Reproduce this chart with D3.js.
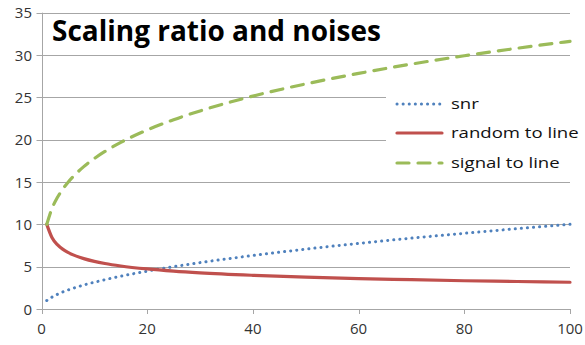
<!DOCTYPE html>
<html>
<head>
<meta charset="utf-8">
<script src="https://cdn.jsdelivr.net/npm/d3@7"></script>
<style>
  body { margin: 0; background: #fff; }
  svg { display: block; }
</style>
</head>
<body>
<div id="chart"></div>
<script>
// values
const xs     = [1, 2, 3, 4, 5, 6, 8, 10, 12, 15, 20, 25, 30, 40, 50, 60, 70, 80, 90, 100];
const snr    = [1, 1.41, 1.73, 2, 2.24, 2.45, 2.83, 3.16, 3.46, 3.87, 4.47, 5, 5.48, 6.32, 7.07, 7.75, 8.37, 8.94, 9.49, 10];
const random = [10, 8.41, 7.6, 7.07, 6.69, 6.39, 5.95, 5.62, 5.37, 5.08, 4.73, 4.47, 4.27, 3.98, 3.76, 3.59, 3.46, 3.34, 3.25, 3.16];
const signal = [10, 11.9, 13.16, 14.14, 14.95, 15.65, 16.82, 17.78, 18.61, 19.68, 21.15, 22.36, 23.4, 25.15, 26.59, 27.83, 28.93, 29.91, 30.8, 31.62];
const xTicks = [0, 20, 40, 60, 80, 100];
const yTicks = [0, 5, 10, 15, 20, 25, 30, 35];
const seriesNames = ["snr", "random to line", "signal to line"];

const W = 585, H = 345;
const svg = d3.select("#chart").append("svg").attr("width", W).attr("height", H);

const x = d3.scaleLinear().domain([0, 100]).range([41.5, 570]);
const y = d3.scaleLinear().domain([0, 35]).range([309, 12.7]);

const font = "'Open Sans', sans-serif";

// gridlines
svg.append("g")
  .selectAll("line").data(yTicks).enter().append("line")
  .attr("x1", x(0) - 5).attr("x2", x(100))
  .attr("y1", d => Math.round(y(d)) + 0.5).attr("y2", d => Math.round(y(d)) + 0.5)
  .attr("stroke", "#a6a6a6").attr("stroke-width", 1);

// y axis line
svg.append("line")
  .attr("x1", Math.round(x(0)) + 0.5).attr("x2", Math.round(x(0)) + 0.5)
  .attr("y1", y(35)).attr("y2", y(0))
  .attr("stroke", "#a6a6a6");

// x ticks
svg.append("g").selectAll("line").data(xTicks).enter().append("line")
  .attr("x1", d => Math.round(x(d)) + 0.5).attr("x2", d => Math.round(x(d)) + 0.5)
  .attr("y1", y(0)).attr("y2", y(0) + 5)
  .attr("stroke", "#a6a6a6");

// tick labels
svg.append("g").selectAll("text").data(yTicks).enter().append("text")
  .attr("x", 32).attr("y", d => y(d) + 5.5)
  .attr("text-anchor", "end")
  .attr("font-family", font).attr("font-size", 15).attr("fill", "#333")
  .text(d => d);

svg.append("g").selectAll("text").data(xTicks).enter().append("text")
  .attr("x", d => x(d)).attr("y", 334)
  .attr("text-anchor", "middle")
  .attr("font-family", font).attr("font-size", 15).attr("fill", "#333")
  .text(d => d);

// legend background (hides gridlines)
svg.append("rect").attr("x", 386).attr("y", 88).attr("width", 199).attr("height", 89).attr("fill", "#fff");

// series
const styles = [
  { data: snr, color: "#4f81bd", width: 3, dash: "0.1 6" },
  { data: random, color: "#c0504d", width: 3.2, dash: null },
  { data: signal, color: "#9bbb59", width: 3.2, dash: "12 9" }
];

const line = d3.line().x(d => x(d[0])).y(d => y(d[1])).curve(d3.curveMonotoneX);

styles.forEach(s => {
  svg.append("path")
    .datum(xs.map((v, i) => [v, s.data[i]]))
    .attr("d", line)
    .attr("fill", "none")
    .attr("stroke", s.color)
    .attr("stroke-width", s.width)
    .attr("stroke-linecap", "round")
    .attr("stroke-dasharray", s.dash);
});

// legend
const legY = [104, 133, 163];
styles.forEach((s, i) => {
  svg.append("line")
    .attr("x1", 397).attr("x2", 442).attr("y1", legY[i]).attr("y2", legY[i])
    .attr("stroke", s.color).attr("stroke-width", s.width)
    .attr("stroke-linecap", "round")
    .attr("stroke-dasharray", s.dash);
  svg.append("text")
    .attr("transform", `translate(451,${legY[i] + 5}) scale(1.24,1)`)
    .attr("font-family", font).attr("font-size", 15).attr("fill", "#111")
    .text(seriesNames[i]);
});

// title
const title = svg.append("text")
  .attr("x", 52).attr("y", 41)
  .attr("font-family", font).attr("font-weight", "bold").attr("font-size", 25)
  .attr("fill", "#000")
  .text("Scaling ratio and noises");
const tw = title.node().getComputedTextLength();
title.attr("font-size", 25 * 329 / tw);
</script>
</body>
</html>
